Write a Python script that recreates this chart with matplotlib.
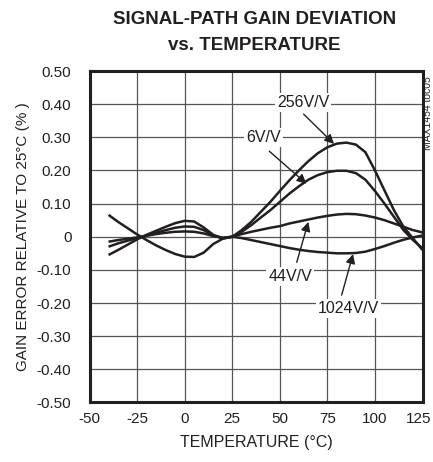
import matplotlib
matplotlib.use("Agg")
import matplotlib.pyplot as plt
from matplotlib.transforms import ScaledTranslation

plt.rcParams['font.family'] = ['Liberation Sans', 'DejaVu Sans']
plt.rcParams['axes.unicode_minus'] = False

temps = [-40, -35, -30, -25, -20, -15, -10, -5, 0, 5, 10, 15, 20, 25,
         30, 35, 40, 45, 50, 55, 60, 65, 70, 75, 80, 85, 90, 95, 100,
         105, 110, 115, 120, 125]

gain_256 = [-0.055, -0.040, -0.024, -0.008, 0.006, 0.018, 0.030, 0.041, 0.048, 0.046,
            0.028, 0.006, -0.005, 0.0,
            0.020, 0.045, 0.075, 0.105, 0.138, 0.170, 0.200, 0.228, 0.252, 0.270,
            0.281, 0.284, 0.278, 0.255, 0.200, 0.140, 0.080, 0.030, -0.005, -0.040]
gain_6 = [-0.030, -0.020, -0.012, -0.004, 0.004, 0.012, 0.020, 0.027, 0.031, 0.030,
          0.020, 0.004, -0.004, 0.0,
          0.015, 0.035, 0.058, 0.080, 0.105, 0.130, 0.152, 0.172, 0.186, 0.195,
          0.199, 0.199, 0.192, 0.172, 0.138, 0.100, 0.060, 0.020, -0.010, -0.035]
gain_44 = [-0.015, -0.010, -0.006, -0.002, 0.003, 0.008, 0.012, 0.015, 0.016, 0.015,
           0.010, 0.002, -0.003, 0.0,
           0.008, 0.015, 0.021, 0.027, 0.032, 0.040, 0.046, 0.052, 0.058, 0.063,
           0.067, 0.069, 0.068, 0.064, 0.058, 0.050, 0.040, 0.030, 0.020, 0.013]
gain_1024 = [0.066, 0.045, 0.026, 0.007, -0.010, -0.026, -0.040, -0.052, -0.060, -0.061,
             -0.048, -0.022, -0.006, 0.0,
             -0.004, -0.010, -0.016, -0.022, -0.028, -0.034, -0.039, -0.043, -0.046, -0.048,
             -0.050, -0.050, -0.049, -0.045, -0.037, -0.028, -0.018, -0.009, -0.002, 0.004]

xticks = [-50, -25, 0, 25, 50, 75, 100, 125]
yticks = [0.5, 0.4, 0.3, 0.2, 0.1, 0.0, -0.1, -0.2, -0.3, -0.4, -0.5]
ytick_labels = ["0.50", "0.40", "0.30", "0.20", "0.10", "0", "-0.10", "-0.20",
                "-0.30", "-0.40", "-0.50"]

# label text position, arrow tail, arrow head
labels = [
    ("256V/V", (62.3, 0.404), (62.5, 0.37), (78.5, 0.280)),
    ("6V/V", (41.3, 0.300), (44.5, 0.258), (64.0, 0.160)),
    ("44V/V", (55.4, -0.120), (58.9, -0.077), (65.0, 0.045)),
    ("1024V/V", (86.0, -0.216), (82.5, -0.176), (88.5, -0.052)),
]

fig = plt.figure(figsize=(4.33, 4.62), dpi=100)
ax = fig.add_axes([0.2067, 0.1288, 0.7691, 0.7175])

for series in (gain_256, gain_6, gain_44, gain_1024):
    ax.plot(temps, series, color="#231f20", lw=1.8, solid_capstyle="butt",
            solid_joinstyle="round", zorder=3)

ax.set_xlim(-50, 125)
ax.set_ylim(-0.5, 0.5)
ax.set_xticks(xticks)
ax.set_yticks(yticks)
ax.set_yticklabels(ytick_labels)
ax.grid(True, color="#555555", lw=0.9)
ax.tick_params(length=0, labelsize=11, colors="#231f20")
ax.tick_params(axis="y", pad=13)
ax.tick_params(axis="x", pad=7)
for sp in ax.spines.values():
    sp.set_linewidth(2.2)
    sp.set_color("#231f20")

# last x label sits a little left so it stays inside the figure
last = ax.get_xticklabels()[-1]
last.set_transform(last.get_transform() + ScaledTranslation(-3 / 72, 0, fig.dpi_scale_trans))

for text, pos, tail, head in labels:
    ax.text(pos[0], pos[1], text, ha="center", va="center", fontsize=11.5,
            color="#231f20", zorder=4,
            bbox=dict(facecolor="white", edgecolor="none", pad=1.5))
    ax.annotate("", xy=head, xytext=tail, zorder=5,
                arrowprops=dict(arrowstyle="-|>", color="#231f20", lw=1.0,
                                mutation_scale=14, shrinkA=0, shrinkB=0))

ax.set_xlabel("TEMPERATURE (°C)", fontsize=11.5, color="#231f20", labelpad=6)
ax.set_ylabel("GAIN ERROR RELATIVE TO 25°C (% )", fontsize=11, color="#231f20", labelpad=5)

fig.text(0.587, 0.958, "SIGNAL-PATH GAIN DEVIATION", ha="center", va="center",
         fontsize=13.5, fontweight="bold", color="#231f20")
fig.text(0.587, 0.902, "vs. TEMPERATURE", ha="center", va="center",
         fontsize=13.5, fontweight="bold", color="#231f20")
fig.text(0.989, 0.755, "MAX1454 toc05", rotation=90, ha="center", va="center",
         fontsize=7.5, color="#231f20")

fig.savefig("out.png", dpi=100)
